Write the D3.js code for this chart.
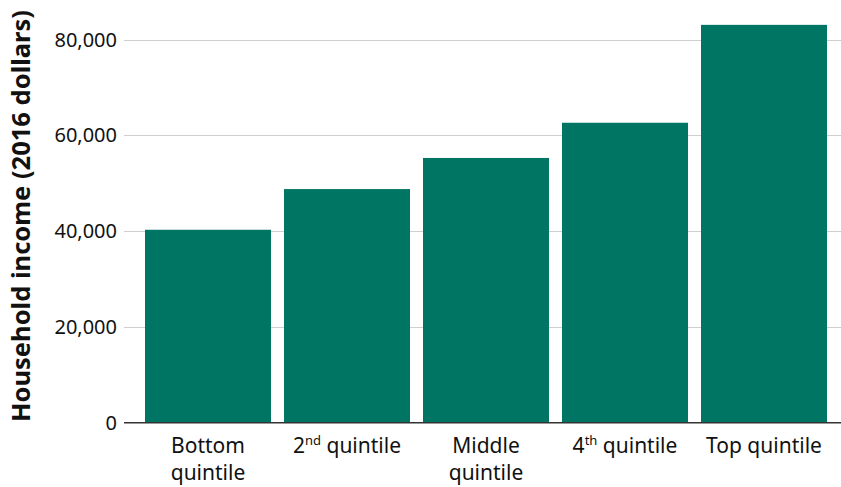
<!DOCTYPE html>
<html>
<head>
<meta charset="utf-8">
<script src="https://cdn.jsdelivr.net/npm/d3@7"></script>
<style>
  body { margin: 0; background: #fff; }
  svg { display: block; font-family: "Noto Sans", sans-serif; }
  .tick-label { font-size: 20px; fill: #111; }
  .cat-label { font-size: 21px; fill: #111; }
  .axis-title { font-size: 25.5px; font-weight: bold; fill: #111; }
</style>
</head>
<body>
<svg id="chart" width="841" height="487"></svg>
<script>
// quintile labels (line1, superscript, line1 rest, line2)
var categories = ["Bottom quintile", "2nd quintile", "Middle quintile", "4th quintile", "Top quintile"];
var labelLines = [
  [{t: "Bottom"}, {t: "quintile"}],
  [{t: "2", sup: "nd", rest: " quintile"}],
  [{t: "Middle"}, {t: "quintile"}],
  [{t: "4", sup: "th", rest: " quintile"}],
  [{t: "Top quintile"}]
];
var incomes = [40300, 48800, 55300, 62650, 83100];
var yTicks = [0, 20000, 40000, 60000, 80000];

var svg = d3.select("#chart");
var W = 841, H = 487;

var x = d3.scaleBand()
  .domain(categories)
  .range([138.5, 833.5])
  .paddingInner(13 / 139)
  .paddingOuter(6.5 / 139);

var y = d3.scaleLinear()
  .domain([0, 80000])
  .range([422.7, 39.7]);

var gridLeft = 124;

// gridlines
svg.append("g")
  .selectAll("line")
  .data(yTicks.filter(function(d) { return d > 0; }))
  .enter()
  .append("line")
  .attr("x1", gridLeft)
  .attr("x2", W)
  .attr("y1", function(d) { return Math.round(y(d)) + 0.5; })
  .attr("y2", function(d) { return Math.round(y(d)) + 0.5; })
  .attr("stroke", "#cfcfcf")
  .attr("stroke-width", 1.2);

// bars
svg.append("g")
  .selectAll("rect")
  .data(incomes)
  .enter()
  .append("rect")
  .attr("x", function(d, i) { return x(categories[i]); })
  .attr("width", x.bandwidth())
  .attr("y", function(d) { return y(d); })
  .attr("height", function(d) { return y(0) - y(d); })
  .attr("fill", "#017563");

// baseline
svg.append("line")
  .attr("x1", gridLeft)
  .attr("x2", W)
  .attr("y1", y(0))
  .attr("y2", y(0))
  .attr("stroke", "#333")
  .attr("stroke-width", 1.5);

// y tick labels
svg.append("g")
  .selectAll("text")
  .data(yTicks)
  .enter()
  .append("text")
  .attr("class", "tick-label")
  .attr("x", 117)
  .attr("y", function(d) { return y(d); })
  .attr("dy", "0.35em")
  .attr("text-anchor", "end")
  .text(function(d) { return d === 0 ? "0" : d3.format(",")(d); });

// x category labels
var cat = svg.append("g")
  .selectAll("text")
  .data(labelLines)
  .enter()
  .append("text")
  .attr("class", "cat-label")
  .attr("text-anchor", "middle")
  .attr("x", function(d, i) { return x(categories[i]) + x.bandwidth() / 2; })
  .attr("y", 453);

cat.each(function(lines, i) {
  var el = d3.select(this);
  var cx = x(categories[i]) + x.bandwidth() / 2;
  lines.forEach(function(ln, j) {
    var ts = el.append("tspan")
      .attr("x", cx)
      .attr("dy", j === 0 ? 0 : 27)
      .text(ln.t);
    if (ln.sup) {
      el.append("tspan")
        .attr("dy", -8)
        .style("font-size", "13px")
        .text(ln.sup);
      el.append("tspan")
        .attr("dy", 8)
        .text(ln.rest);
    }
  });
});

// y axis title
svg.append("text")
  .attr("class", "axis-title")
  .attr("transform", "translate(30," + 216 + ") rotate(-90)")
  .attr("text-anchor", "middle")
  .text("Household income (2016 dollars)");
</script>
</body>
</html>
